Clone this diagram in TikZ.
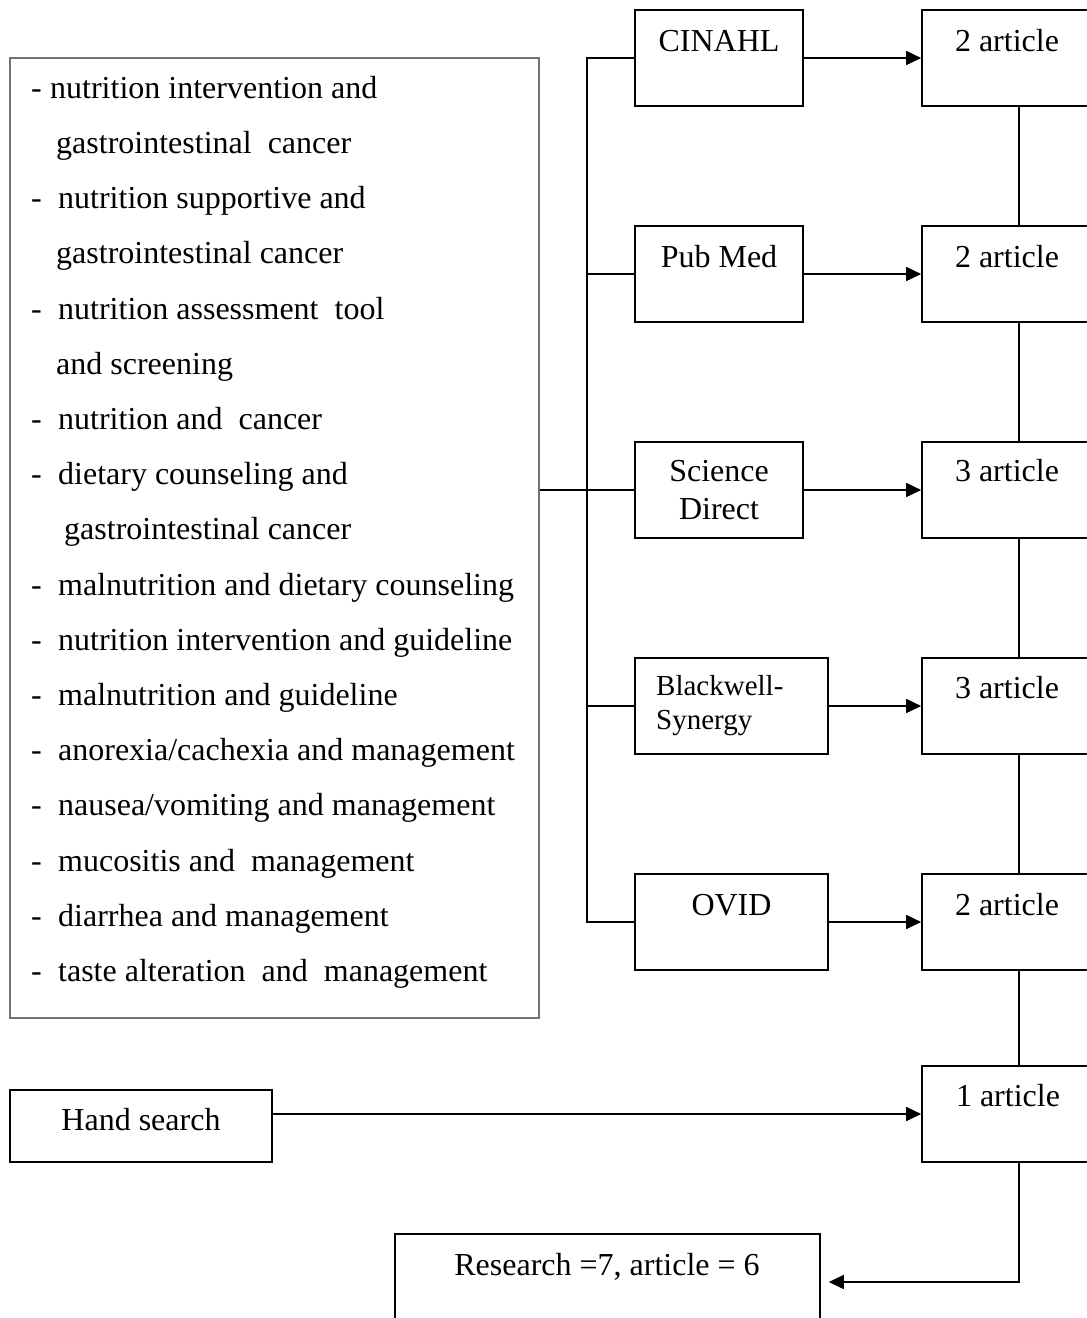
\documentclass[tikz,border=0pt]{standalone}
\usepackage{fontspec}
\setmainfont{Liberation Serif}
\usetikzlibrary{arrows.meta}
\begin{document}
\begin{tikzpicture}[x=1pt,y=-1pt,
  box/.style={draw, line width=1.6pt, rectangle, inner sep=0pt},
  lbl/.style={inner sep=0pt, anchor=base, font=\fontsize{32}{38}\selectfont},
  kwl/.style={inner sep=0pt, anchor=base west, font=\fontsize{32}{38}\selectfont},
  ln/.style={line width=1.6pt},
  arr/.style={line width=1.6pt, -{Triangle[length=15pt,width=14pt]}}]
\useasboundingbox (0,0) rectangle (1087,1318);
\clip (0,0) rectangle (1087,1318);
% keyword box
\node[box, draw=black!55, minimum width=529pt, minimum height=960pt] (kw) at (274.5,538) {};
\newcommand{\dsh}[1]{\makebox[#1][l]{-}}
\node[kwl] (k0) at (31,98.3) {\dsh{19pt}nutrition intervention and};
\node[kwl] (k1) at (56,153.5) {gastrointestinal\ \ cancer};
\node[kwl] (k2) at (31,208.7) {\dsh{27pt}nutrition supportive and};
\node[kwl] (k3) at (56,263.9) {gastrointestinal cancer};
\node[kwl] (k4) at (31,319.1) {\dsh{27pt}nutrition assessment\ \ tool};
\node[kwl] (k5) at (56,374.3) {and screening};
\node[kwl] (k6) at (31,429.5) {\dsh{27pt}nutrition and\ \ cancer};
\node[kwl] (k7) at (31,484.7) {\dsh{27pt}dietary counseling and};
\node[kwl] (k8) at (64,539.9) {gastrointestinal cancer};
\node[kwl] (k9) at (31,595.1) {\dsh{27pt}malnutrition and dietary counseling};
\node[kwl] (k10) at (31,650.3) {\dsh{27pt}nutrition intervention and guideline};
\node[kwl] (k11) at (31,705.5) {\dsh{27pt}malnutrition and guideline};
\node[kwl] (k12) at (31,760.7) {\dsh{27pt}anorexia/cachexia and management};
\node[kwl] (k13) at (31,815.9) {\dsh{27pt}nausea/vomiting and management};
\node[kwl] (k14) at (31,871.1) {\dsh{27pt}mucositis and\ \ management};
\node[kwl] (k15) at (31,926.3) {\dsh{27pt}diarrhea and management};
\node[kwl] (k16) at (31,981.5) {\dsh{27pt}taste alteration\ \ and\ \ management};
% database boxes
\node[box, minimum width=168pt, minimum height=96pt] (cin) at (719,58) {};
\node[box, minimum width=168pt, minimum height=96pt] (pm) at (719,274) {};
\node[box, minimum width=168pt, minimum height=96pt] (sd) at (719,490) {};
\node[box, minimum width=193pt, minimum height=96pt] (bw) at (731.5,706) {};
\node[box, minimum width=193pt, minimum height=96pt] (ov) at (731.5,922) {};
\node[lbl] (cinT) at (719,51) {CINAHL};
\node[lbl] (pmT) at (719,267) {Pub Med};
\node[lbl] (sdT1) at (719,481.7) {Science};
\node[lbl] (sdT2) at (719,519.3) {Direct};
\node[kwl, font=\fontsize{29}{34}\selectfont] (bwT1) at (656,695.7) {Blackwell-};
\node[kwl, font=\fontsize{29}{34}\selectfont] (bwT2) at (656,729.3) {Synergy};
\node[lbl] (ovT) at (731.5,915) {OVID};
% article boxes
\node[box, minimum width=194pt, minimum height=96pt] (a1) at (1019,58) {};
\node[box, minimum width=194pt, minimum height=96pt] (a2) at (1019,274) {};
\node[box, minimum width=194pt, minimum height=96pt] (a3) at (1019,490) {};
\node[box, minimum width=194pt, minimum height=96pt] (a4) at (1019,706) {};
\node[box, minimum width=194pt, minimum height=96pt] (a5) at (1019,922) {};
\node[box, minimum width=194pt, minimum height=96pt] (a6) at (1019,1114) {};
\node[lbl] (a1T) at (1007,51) {2 article};
\node[lbl] (a2T) at (1007,267) {2 article};
\node[lbl] (a3T) at (1007,481.7) {3 article};
\node[lbl] (a4T) at (1007,698) {3 article};
\node[lbl] (a5T) at (1007,915) {2 article};
\node[lbl] (a6T) at (1008,1106.7) {1 article};
% hand search and result
\node[box, minimum width=262pt, minimum height=72pt] (hs) at (141,1126) {};
\node[lbl] (hsT) at (141,1130.7) {Hand search};
\node[box, minimum width=425pt, minimum height=96pt] (res) at (607.5,1282) {};
\node[lbl] (resT) at (607,1275) {Research =7, article = 6};
% connectors
\coordinate (trunk) at (587,0);
\draw[ln] (cin.west) -| (trunk |- ov.west) -- (ov.west);
\draw[ln] (pm.west) -- (pm.west -| trunk);
\draw[ln] (sd.west) -- (sd.west -| trunk);
\draw[ln] (bw.west) -- (bw.west -| trunk);
\draw[ln] (kw.east |- sd.west) -- (sd.west -| trunk);
\draw[arr] (cin.east) -- (a1.west);
\draw[arr] (pm.east) -- (a2.west);
\draw[arr] (sd.east) -- (a3.west);
\draw[arr] (bw.east) -- (a4.west);
\draw[arr] (ov.east) -- (a5.west);
\draw[ln] (a1.south) -- (a2.north);
\draw[ln] (a2.south) -- (a3.north);
\draw[ln] (a3.south) -- (a4.north);
\draw[ln] (a4.south) -- (a5.north);
\draw[ln] (a5.south) -- (a6.north);
\draw[arr] (hs.east |- a6.west) -- (a6.west);
\draw[arr, shorten >=8pt] (a6.south) |- (res.east);
\end{tikzpicture}
\end{document}
